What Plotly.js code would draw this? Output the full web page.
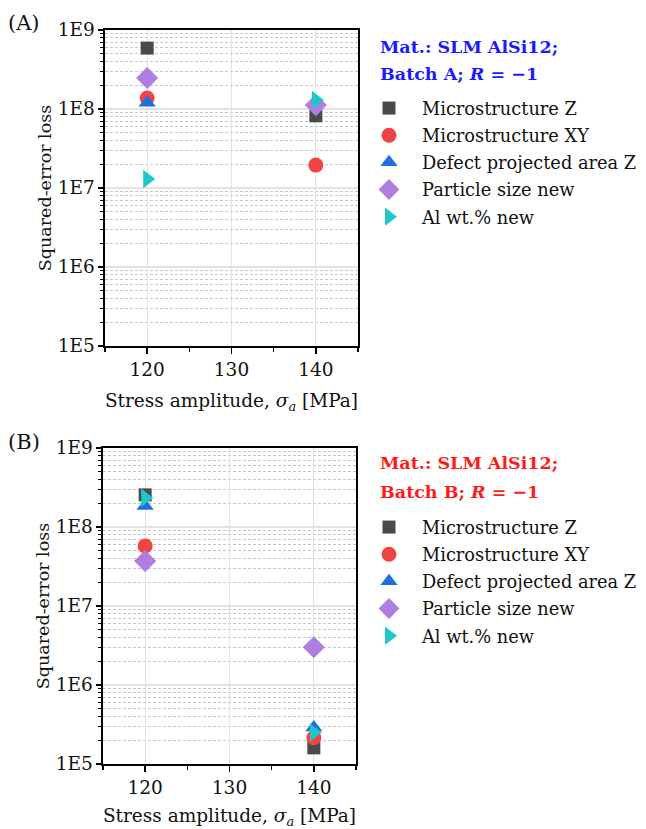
<!DOCTYPE html>
<html>
<head>
<meta charset="utf-8">
<script src="https://cdn.plot.ly/plotly-3.0.1.min.js"></script>
<style>html,body{margin:0;padding:0;background:#fff;}#chart{width:646px;height:829px;}</style>
</head>
<body>
<div id="chart"></div>
<script>
// ---- data ----
const stress = [120, 140];
const seriesNames = ["Microstructure Z", "Microstructure XY", "Defect projected area Z", "Particle size new", "Al wt.% new"];
// Batch A (panel A)
const batchA_microZ   = [5.9e8, 8.2e7];
const batchA_microXY  = [1.38e8, 1.95e7];
const batchA_defectZ  = [1.2e8, 1.2e8];
const batchA_particle = [2.47e8, 1.12e8];
const batchA_al       = [1.3e7, 1.3e8];
// Batch B (panel B)
const batchB_microZ   = [2.55e8, 1.6e5];
const batchB_microXY  = [5.75e7, 2.15e5];
const batchB_defectZ  = [1.85e8, 2.9e5];
const batchB_particle = [3.7e7, 3.0e6];
const batchB_al       = [2.35e8, 2.5e5];
const yTickVals = [1e5, 1e6, 1e7, 1e8, 1e9];
const yTickText = ["1E5", "1E6", "1E7", "1E8", "1E9"];
const yMinorVals = [2e5,3e5,4e5,5e5,6e5,7e5,8e5,9e5, 2e6,3e6,4e6,5e6,6e6,7e6,8e6,9e6,
                    2e7,3e7,4e7,5e7,6e7,7e7,8e7,9e7, 2e8,3e8,4e8,5e8,6e8,7e8,8e8,9e8];
const xTickVals = [120, 130, 140];
const xMinorVals = [115, 125, 135, 145];

// ---- styles ----
const FONT = "DejaVu Serif";
const styles = [
  {symbol: "square", color: "#4a4a4a", size: 13},
  {symbol: "circle", color: "#f04444", size: 15},
  {symbol: "triangle-up", color: "#1f6fe0", size: 15},
  {symbol: "diamond", color: "#b07ee0", size: 17},
  {symbol: "triangle-right", color: "#1ec8c8", size: 16}
];
const dataA = [batchA_microZ, batchA_microXY, batchA_defectZ, batchA_particle, batchA_al];
const dataB = [batchB_microZ, batchB_microXY, batchB_defectZ, batchB_particle, batchB_al];

const traces = [];
dataA.forEach((ys, i) => traces.push({
  x: stress, y: ys, name: seriesNames[i], type: "scatter", mode: "markers",
  xaxis: "x", yaxis: "y", legend: "legend", legendgroup: "a" + i,
  marker: {symbol: styles[i].symbol, color: styles[i].color, size: styles[i].size, line: {width: 0}}
}));
dataB.forEach((ys, i) => traces.push({
  x: stress, y: ys, name: seriesNames[i], type: "scatter", mode: "markers",
  xaxis: "x2", yaxis: "y2", legend: "legend2", legendgroup: "b" + i,
  marker: {symbol: styles[i].symbol, color: styles[i].color, size: styles[i].size, line: {width: 0}}
}));

function xAxis(anchor, domain) {
  return {
    anchor: anchor, domain: domain, range: [115, 145],
    tickvals: xTickVals, ticks: "outside", ticklen: 6, tickwidth: 1.4, tickcolor: "#000",
    showline: true, linecolor: "#000", linewidth: 1.6, mirror: true,
    showgrid: true, gridcolor: "#e2e2e2", gridwidth: 1, zeroline: false,
    minor: {tickvals: xMinorVals, ticks: "outside", ticklen: 4, tickwidth: 1.4, tickcolor: "#000", showgrid: false},
    tickfont: {family: FONT, size: 18.5, color: "#111"},
    title: {text: "Stress amplitude, <i>σ</i><sub><i>a</i></sub> [MPa]", font: {family: FONT, size: 18.5, color: "#111"}, standoff: 15}
  };
}
function yAxis(anchor, domain) {
  return {
    anchor: anchor, domain: domain, type: "log", range: [5, 9],
    tickvals: yTickVals, ticktext: yTickText, ticks: "outside", ticklen: 5, tickwidth: 1.4, tickcolor: "#000",
    showline: true, linecolor: "#000", linewidth: 1.6, mirror: true,
    showgrid: true, gridcolor: "#e2e2e2", gridwidth: 1.2, zeroline: false,
    minor: {tickvals: yMinorVals, ticks: "outside", ticklen: 3, tickwidth: 1.2, tickcolor: "#000",
            showgrid: true, gridcolor: "#b8b8b8", griddash: "3px,2px", gridwidth: 0.8},
    tickfont: {family: FONT, size: 18.5, color: "#111"},
    title: {text: "Squared-error loss", font: {family: FONT, size: 17.5, color: "#111"}, standoff: 1}
  };
}

const legendBase = {
  xanchor: "left", yanchor: "top", bgcolor: "rgba(0,0,0,0)", itemwidth: 56,
  font: {family: FONT, size: 17.8, color: "#111"}, tracegroupgap: 1, itemclick: false
};

function note(text, x, y, color, size, bold) {
  return {text: bold ? "<b>" + text + "</b>" : text, xref: "paper", yref: "paper",
          x: x/646, y: 1 - y/829, xanchor: "left", yanchor: "middle", align: "left", showarrow: false,
          font: {family: FONT, size: size, color: color}};
}

const layout = {
  width: 646, height: 829,
  margin: {l: 0, r: 0, t: 0, b: 0},
  paper_bgcolor: "#fff", plot_bgcolor: "#fff",
  showlegend: true,
  xaxis: xAxis("y", [105/646, 358/646]),
  yaxis: yAxis("x", [1 - 346/829, 1 - 30/829]),
  xaxis2: xAxis("y2", [103/646, 356/646]),
  yaxis2: yAxis("x2", [1 - 764/829, 1 - 448/829]),
  legend: Object.assign({}, legendBase, {x: 356/646, y: 1 - 90/829}),
  legend2: Object.assign({}, legendBase, {x: 356/646, y: 1 - 509/829}),
  annotations: [
    note("(A)", 6, 23, "#111", 21, false),
    note("(B)", 6, 442, "#111", 21, false),
    note("Mat.: SLM AlSi12;", 378, 47, "#1a1aff", 17.5, true),
    note("Batch A; <i>R</i> = −1", 378, 74, "#1a1aff", 17.5, true),
    note("Mat.: SLM AlSi12;", 378, 463, "#ff1a1a", 17.5, true),
    note("Batch B; <i>R</i> = −1", 378, 492, "#ff1a1a", 17.5, true)
  ]
};

Plotly.newPlot("chart", traces, layout, {displayModeBar: false, staticPlot: true});
</script>
</body>
</html>
